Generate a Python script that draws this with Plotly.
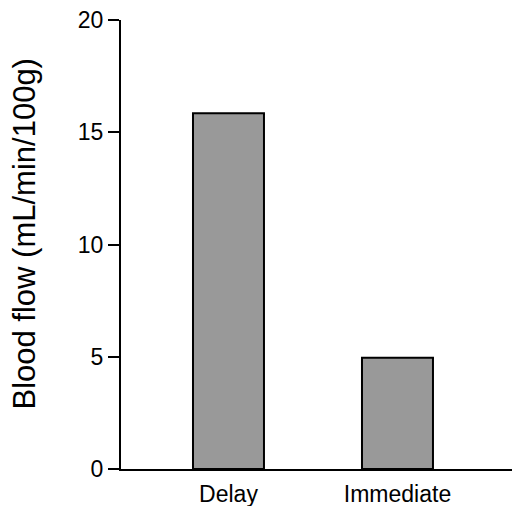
import plotly.graph_objects as go

categories = ["Delay", "Immediate"]
blood_flow = [15.85, 4.95]
y_ticks = [0, 5, 10, 15, 20]
y_title = "Blood flow (mL/min/100g)"

fig = go.Figure(
    go.Bar(
        x=categories,
        y=blood_flow,
        marker=dict(color="#999999", line=dict(color="black", width=2)),
        width=0.42,
    )
)

fig.update_layout(
    width=520,
    height=506,
    margin=dict(l=113, r=8, t=12, b=45, autoexpand=False),
    paper_bgcolor="white",
    plot_bgcolor="white",
    showlegend=False,
    font=dict(family="Liberation Sans, Arial, sans-serif", color="black"),
)

fig.update_xaxes(
    range=[-0.636, 1.725],
    showline=True,
    linecolor="black",
    linewidth=2,
    ticks="",
    showgrid=False,
    zeroline=False,
    tickfont=dict(size=23, color="black"),
    ticklabelstandoff=3,
    ticklabeloverflow="allow",
)

fig.update_yaxes(
    range=[0, 20],
    tickvals=y_ticks,
    showline=True,
    linecolor="black",
    linewidth=2,
    ticks="outside",
    ticklen=11,
    tickwidth=2,
    tickcolor="black",
    showgrid=False,
    zeroline=False,
    tickfont=dict(size=23, color="black"),
    ticklabelstandoff=0,
    ticklabeloverflow="allow",
)

fig.add_annotation(
    text=y_title,
    textangle=-90,
    xref="paper",
    yref="paper",
    x=-0.243,
    y=0.5245,
    xanchor="center",
    yanchor="middle",
    showarrow=False,
    borderpad=0,
    font=dict(size=31, color="black"),
)

fig.write_html("out.html")
